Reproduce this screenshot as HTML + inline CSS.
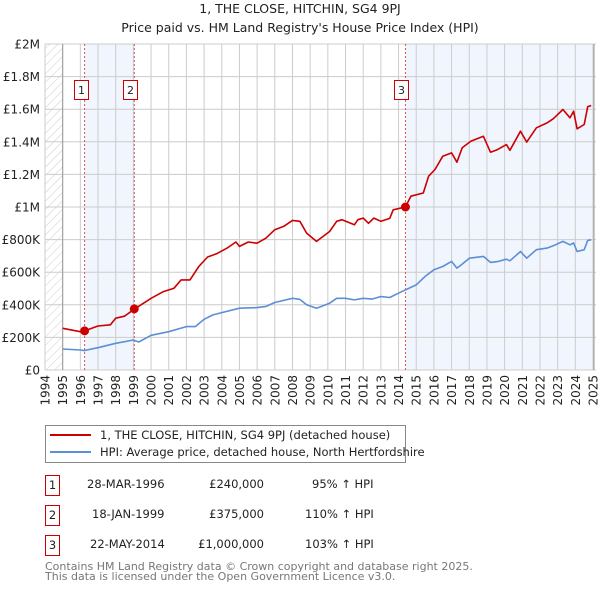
<!DOCTYPE html>
<html><head><meta charset="utf-8"><style>
body{margin:0;background:#fff;font-family:"Liberation Sans","DejaVu Sans",sans-serif;}
svg text{font-family:"DejaVu Sans","Liberation Sans",sans-serif;}
</style></head><body>
<svg id="c" width="600" height="590" xmlns="http://www.w3.org/2000/svg">
<defs><pattern id="hatch" width="6" height="6" patternUnits="userSpaceOnUse" patternTransform="rotate(45)"><line x1="0" y1="0" x2="0" y2="6" stroke="#ccc" stroke-width="1"/></pattern></defs>
<text x="300" y="13" text-anchor="middle" font-size="12.5" fill="#222">1, THE CLOSE, HITCHIN, SG4 9PJ</text>
<text x="300" y="32" text-anchor="middle" font-size="12.5" fill="#222">Price paid vs. HM Land Registry's House Price Index (HPI)</text>
<g id="plot"></g>
<g>
<rect x="45.5" y="425.5" width="360" height="37" fill="#fff" stroke="#888"/>
<line x1="50" y1="435" x2="91" y2="435" stroke="#cc0000" stroke-width="2"/>
<text x="100" y="439" font-size="11.5" fill="#222">1, THE CLOSE, HITCHIN, SG4 9PJ (detached house)</text>
<line x1="50" y1="452" x2="91" y2="452" stroke="#5b8fd6" stroke-width="2"/>
<text x="100" y="456" font-size="11.5" fill="#222">HPI: Average price, detached house, North Hertfordshire</text>
</g>
<g font-size="11.5" fill="#222">
<rect x="45.5" y="475.5" width="14" height="20" fill="none" stroke="#cc0000"/><text x="52.5" y="489" text-anchor="middle">1</text>
<text x="87" y="488">28-MAR-1996</text><text x="264" y="488" text-anchor="end">£240,000</text><text x="312" y="488">95% ↑ HPI</text>
<rect x="45.5" y="505.5" width="14" height="20" fill="none" stroke="#cc0000"/><text x="52.5" y="519" text-anchor="middle">2</text>
<text x="92" y="518">18-JAN-1999</text><text x="264" y="518" text-anchor="end">£375,000</text><text x="305" y="518">110% ↑ HPI</text>
<rect x="45.5" y="535.5" width="14" height="20" fill="none" stroke="#cc0000"/><text x="52.5" y="549" text-anchor="middle">3</text>
<text x="90" y="548">22-MAY-2014</text><text x="264" y="548" text-anchor="end">£1,000,000</text><text x="305" y="548">103% ↑ HPI</text>
</g>
<text x="45" y="570" font-size="11" fill="#777">Contains HM Land Registry data © Crown copyright and database right 2025.</text>
<text x="45" y="580" font-size="11" fill="#777">This data is licensed under the Open Government Licence v3.0.</text>
</svg>
<script>
const yTicks=[0,200,400,600,800,1000,1200,1400,1600,1800,2000];
const yTickLabels=["£0","£200K","£400K","£600K","£800K","£1M","£1.2M","£1.4M","£1.6M","£1.8M","£2M"];
const xYears=[1994,1995,1996,1997,1998,1999,2000,2001,2002,2003,2004,2005,2006,2007,2008,2009,2010,2011,2012,2013,2014,2015,2016,2017,2018,2019,2020,2021,2022,2023,2024,2025];
const saleDates=[1996.24,1999.05,2014.39];
const salePrices=[240,375,1000];
const saleLabels=["1","2","3"];
const hpiT=[1995,1996,1996.2,1997,1998,1999,1999.3,2000,2001,2002,2002.5,2003,2003.5,2004,2005,2006,2006.5,2007,2008,2008.4,2008.8,2009.36,2010.1,2010.5,2011,2011.5,2012,2012.5,2013,2013.5,2014,2014.4,2015,2015.5,2016,2016.5,2017,2017.3,2017.6,2018,2018.8,2019.2,2019.6,2020.1,2020.3,2020.9,2021.25,2021.8,2022.4,2022.75,2023.3,2023.7,2023.9,2024.1,2024.5,2024.7,2024.9];
const hpiV=[129,123,119,137,164,184,172,213,235,266,266,311,338,352,379,383,390,414,440,434,400,379,410,440,440,430,440,435,451,445,471,492,522,574,615,635,666,625,650,686,697,660,665,680,670,727,686,738,748,762,789,768,779,727,738,795,799];
const ppT=[1995,1996,1996.24,1997,1997.7,1998,1998.5,1999.05,2000,2000.7,2001.3,2001.7,2002.2,2002.7,2003.2,2003.7,2004.3,2004.8,2005,2005.5,2006,2006.5,2007,2007.5,2008,2008.42,2008.8,2009.36,2010.1,2010.5,2010.8,2011.5,2011.7,2012,2012.3,2012.6,2013,2013.5,2013.7,2014.39,2014.7,2015.4,2015.7,2016.06,2016.5,2017,2017.3,2017.6,2018.1,2018.8,2019.2,2019.6,2020.1,2020.3,2020.9,2021.25,2021.8,2022.4,2022.75,2023.3,2023.7,2023.9,2024.1,2024.5,2024.7,2024.9];
const ppV=[256,235,240,270,277,318,330,373,440,481,502,553,553,635,693,713,748,785,758,785,778,809,861,881,918,912,840,789,850,912,922,891,922,932,900,932,912,930,983,1000,1066,1086,1189,1230,1311,1332,1275,1363,1404,1434,1336,1352,1383,1348,1465,1398,1486,1516,1541,1598,1547,1588,1480,1506,1615,1623];

const X0=45,X1=593,Y0=370,Y1=44,YR0=1994,YR1=2025,VMAX=2000;
const xs=t=>X0+(t-YR0)/(YR1-YR0)*(X1-X0);
const ys=v=>Y0-v/VMAX*(Y0-Y1);
const NS="http://www.w3.org/2000/svg";
const g=document.getElementById('plot');
function mk(tag,attrs,parent){const e=document.createElementNS(NS,tag);for(const k in attrs)e.setAttribute(k,attrs[k]);(parent||g).appendChild(e);return e;}
let e=mk('rect',{x:X0,y:Y1,width:596-X0,height:Y0-Y1,fill:'#fff'});


e=mk('rect',{x:X0,y:Y1,width:xs(1995)-X0,height:Y0-Y1,fill:'url(#hatch)'});


e=mk('rect',{x:xs(saleDates[0]),y:Y1,width:xs(saleDates[1])-xs(saleDates[0]),height:Y0-Y1,fill:'#eef3fc',opacity:0.8});


e=mk('rect',{x:xs(saleDates[2]),y:Y1,width:X1-xs(saleDates[2]),height:Y0-Y1,fill:'#eef3fc',opacity:0.8});


yTicks.forEach((v,i)=>{
  let l=mk('line',{x1:X0,x2:596,y1:ys(v),y2:ys(v),stroke:'#ccc','stroke-width':1});
  
  
  let t=mk('text',{x:40,y:ys(v)+4.5,'text-anchor':'end','font-size':12,fill:'#222'});
  t.textContent=yTickLabels[i];
  
  
});
xYears.forEach(y=>{
  let l=mk('line',{x1:xs(y),x2:xs(y),y1:Y1,y2:Y0,stroke:'#ccc','stroke-width':1});
  
  
  let t=mk('text',{x:0,y:0,'text-anchor':'end','font-size':12,fill:'#222',transform:`translate(${xs(y)+4.5},${Y0+5}) rotate(-90)`});
  t.textContent=y;
  
  
});
e=mk('line',{x1:xs(1995),x2:xs(1995),y1:Y1,y2:Y0,stroke:'#999','stroke-width':1});


e=mk('line',{x1:X1+1,x2:X1+1,y1:Y1,y2:Y0,stroke:'#999','stroke-width':1});


saleDates.forEach((d,i)=>{
  let l=mk('line',{x1:xs(d),x2:xs(d),y1:Y1,y2:Y0,stroke:'#e05050','stroke-width':1,'stroke-dasharray':'2,2'});
  
  
});
function path(T,V,color,name){
  let d=T.map((t,i)=>(i?'L':'M')+xs(t).toFixed(1)+','+ys(V[i]).toFixed(1)).join('');
  let p=mk('path',{d:d,fill:'none',stroke:color,'stroke-width':1.6,'stroke-linejoin':'round'});
  
  
}
path(hpiT,hpiV,'#5b8fd6','hpi-line');
path(ppT,ppV,'#cc0000','price-paid-line');
saleDates.forEach((d,i)=>{
  let c=mk('circle',{cx:xs(d),cy:ys(salePrices[i]),r:4.5,fill:'#cc0000'});
  
  
  let bx=Math.round(xs(d))-10.5;
  let r=mk('rect',{x:bx,y:80.5,width:14,height:19,fill:'#fff',stroke:'#cc0000'});
  
  
  let t=mk('text',{x:bx+7,y:94,'text-anchor':'middle','font-size':11,fill:'#222'});
  t.textContent=saleLabels[i];
  
  
});
</script>
</body></html>
